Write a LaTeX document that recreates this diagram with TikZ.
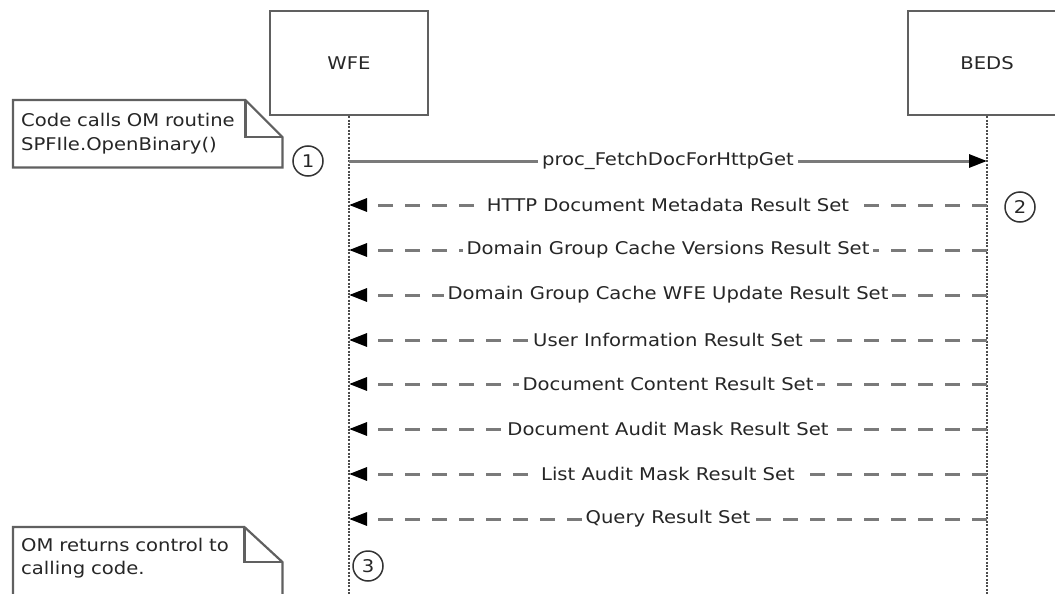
\documentclass[tikz,border=0pt]{standalone}
\usepackage{fontspec}
\setmainfont[FakeStretch=1.12]{DejaVu Sans}
\usepackage{tikz}
\usetikzlibrary{positioning,arrows.meta}
\definecolor{linegray}{HTML}{7A7A7A}
\definecolor{boxgray}{HTML}{606060}
\definecolor{textgray}{HTML}{262626}
\newcommand{\diagfont}{\fontsize{17.5}{23.5}\selectfont}
\tikzset{
  actor/.style={draw=boxgray, line width=2.2pt, minimum width=158pt, minimum height=104pt, font=\diagfont, text=textgray},
  lifeline/.style={draw=black!70, line width=2.6pt, dash pattern=on 2pt off 1.4pt},
  call/.style={-{Triangle[length=18pt,width=13pt,color=black]}, draw=linegray, line width=3pt},
  reply/.style={call, dash pattern=on 15pt off 12pt},
  msg/.style={fill=white, inner sep=4pt, font=\diagfont, text=textgray},
  stepmark/.style={circle, draw=black!80, line width=1.5pt, minimum size=30pt, inner sep=0pt, font=\diagfont, text=textgray},
  notebox/.style={draw=boxgray, line width=2.2pt},
  notetext/.style={anchor=north west, text width=253pt, minimum height=67pt, inner sep=8pt, align=left, font=\diagfont, text=textgray},
}
\begin{document}
\begin{tikzpicture}[x=1pt, y=-1pt]
  \useasboundingbox (0,0) rectangle (1055,594);

  % lifelines
  \node[actor] (wfe) at (349,63) {WFE};
  \node[actor] (beds) at (987,63) {BEDS};
  \draw[lifeline] (wfe.south) -- (wfe.south |- 0,600);
  \draw[lifeline] (beds.south) -- (beds.south |- 0,600);

  \foreach \n/\y in {1/161,2/205,3/250,4/295,5/340,6/384,7/429,8/474,9/519} {
    \coordinate (w\n) at (wfe.south |- 0,\y);
    \coordinate (b\n) at (beds.south |- 0,\y);
  }

  % messages
  \draw[call] (w1) -- node[msg] {proc\_FetchDocForHttpGet} (b1);
  \draw[reply] (b2) -- node[msg] {HTTP Document Metadata Result Set} (w2);
  \draw[reply] (b3) -- node[msg] {Domain Group Cache Versions Result Set} (w3);
  \draw[reply] (b4) -- node[msg] {Domain Group Cache WFE Update Result Set} (w4);
  \draw[reply] (b5) -- node[msg] {User Information Result Set} (w5);
  \draw[reply] (b6) -- node[msg] {Document Content Result Set} (w6);
  \draw[reply] (b7) -- node[msg] {Document Audit Mask Result Set} (w7);
  \draw[reply] (b8) -- node[msg] {List Audit Mask Result Set} (w8);
  \draw[reply] (b9) -- node[msg] {Query Result Set} (w9);

  % steps
  \node[stepmark] (s1) at (308,161) {1};
  \node[stepmark] (s2) at (1020,207) {2};
  \node[stepmark] (s3) at (368,566) {3};

  % notes
  \node[notetext] (note1) at (13,100) {Code calls OM routine\\SPFIle.OpenBinary()};
  \draw[notebox] (note1.north west) -- ([xshift=-37pt]note1.north east)
    -- ([yshift=-37pt]note1.north east) -- (note1.south east)
    -- (note1.south west) -- cycle;
  \draw[notebox] ([xshift=-37pt]note1.north east) |- ([yshift=-37pt]note1.north east);

  \node[notetext, minimum height=62pt] (note2) at (13,527) {OM returns control to\\calling code.};
  \draw[notebox] (note2.north west) -- ([xshift=-38pt]note2.north east)
    -- ([yshift=-35pt]note2.north east) -- ([yshift=-12pt]note2.south east)
    -- ([yshift=-12pt]note2.south west) -- cycle;
  \draw[notebox] ([xshift=-38pt]note2.north east) |- ([yshift=-35pt]note2.north east);
\end{tikzpicture}
\end{document}
